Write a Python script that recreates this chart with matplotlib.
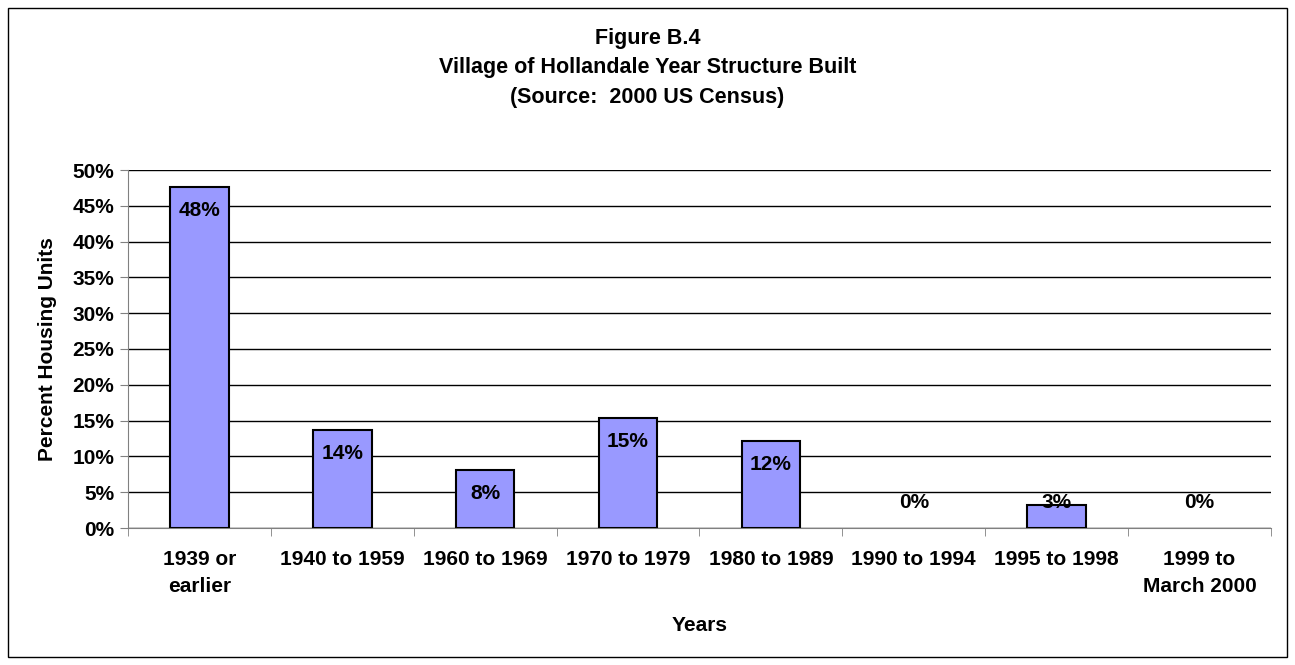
import matplotlib

matplotlib.use("Agg")
import matplotlib.pyplot as plt
from matplotlib.patches import Rectangle
from matplotlib.ticker import FuncFormatter, FixedLocator

categories = ["1939 or\nearlier", "1940 to 1959", "1960 to 1969", "1970 to 1979",
              "1980 to 1989", "1990 to 1994", "1995 to 1998", "1999 to\nMarch 2000"]
values = [47.6, 13.7, 8.1, 15.4, 12.2, 0.0, 3.2, 0.0]
labels = ["48%", "14%", "8%", "15%", "12%", "0%", "3%", "0%"]

plt.rcParams["font.family"] = ["Liberation Sans", "DejaVu Sans"]
plt.rcParams["font.weight"] = "bold"
FS = 15

fig = plt.figure(figsize=(12.95, 6.65), dpi=100)
fig.patches.append(Rectangle((8 / 1295, 8 / 665), 1279 / 1295, 649 / 665,
                             transform=fig.transFigure, fill=False,
                             edgecolor="black", linewidth=1))

ax = fig.add_axes([128 / 1295, 1 - 528 / 665, 1143 / 1295, 358 / 665])
xs = range(len(categories))
ax.bar(xs, values, width=0.41, color="#9999FF", edgecolor="black",
       linewidth=[1.5 if v > 0 else 0 for v in values], zorder=3)

for x, v, lab in zip(xs, values, labels):
    ax.text(x, max(v - 3.3, 3.5), lab, ha="center", va="center",
            fontsize=FS, fontweight="bold", zorder=4)

ax.set_xlim(-0.5, len(categories) - 0.5)
ax.set_ylim(0, 50)
ax.set_yticks(range(0, 51, 5))
ax.yaxis.set_major_formatter(FuncFormatter(lambda v, p: f"{int(v)}%"))
ax.yaxis.grid(True, color="black", linewidth=1)
ax.set_axisbelow(True)

ax.set_xticks(list(xs))
ax.set_xticklabels(categories, fontsize=FS, fontweight="bold", linespacing=1.55)
ax.xaxis.set_minor_locator(FixedLocator([i + 0.5 for i in range(-1, len(categories))]))
ax.tick_params(axis="x", which="major", length=0, pad=16)
ax.tick_params(axis="x", which="minor", length=6, color="#808080")
ax.tick_params(axis="y", length=6, color="#808080", labelsize=FS, pad=4)
for t in ax.get_yticklabels():
    t.set_fontweight("bold")

for s in ["top", "right"]:
    ax.spines[s].set_visible(False)
ax.spines["left"].set_color("#808080")
ax.spines["bottom"].set_color("#808080")

ax.set_xlabel("Years", fontsize=FS, fontweight="bold", labelpad=14)
ax.set_ylabel("Percent Housing Units", fontsize=FS, fontweight="bold", labelpad=11)

fig.text(0.5, 1 - 68 / 665, "Figure B.4\nVillage of Hollandale Year Structure Built\n(Source:  2000 US Census)",
         ha="center", va="center", fontsize=15.5, fontweight="bold", linespacing=1.55)

fig.savefig("out.png", dpi=100)
